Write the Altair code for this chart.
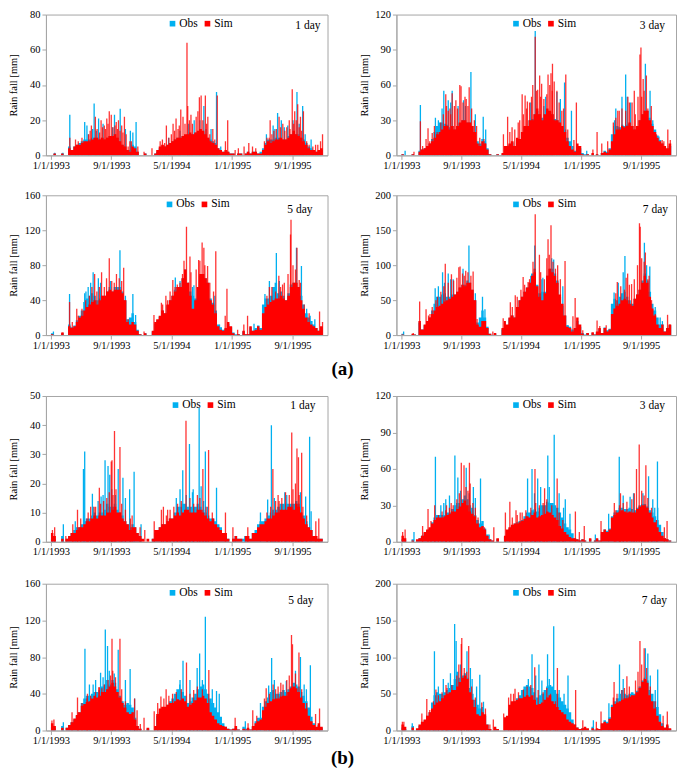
import altair as alt
import pandas as pd

SERIF = "Liberation Serif"
BLUE = "#00B0F0"
RED = "#FF0000"

# ---------------- data (10-day fill levels, 3 per month, Jan 1993 .. Dec 1995) ----------------
# ---------------- plus daily spikes given as (day offset from 1/1/1993, mm) ----------------

# (a) 1 day
a1_sim_fill = [0,1,0, 0,1,0, 0,4,3, 5,6,6, 7,8,8, 8,9,10, 10,9,10, 9,10,11, 11,12,10, 8,6,5, 3,2,5, 4,2,0,
               0,1,0, 0,0,1, 3,5,6, 5,6,7, 8,9,10, 10,11,12, 12,13,12, 13,14,15, 14,12,10, 8,7,6, 4,3,2, 3,2,1,
               1,0,1, 1,0,1, 2,1,2, 2,1,1, 3,6,8, 7,8,9, 9,10,9, 9,10,12, 14,12,11, 10,8,6, 4,3,3, 2,3,4]
a1_obs_fill = [0,1,0, 0,1,0, 0,5,3, 5,6,7, 8,9,9, 9,10,10, 10,9,10, 9,10,11, 11,12,10, 8,6,5, 3,3,6, 5,2,0,
               0,1,0, 0,0,1, 2,4,5, 5,6,7, 8,9,10, 10,11,11, 12,12,12, 13,13,14, 13,12,10, 9,8,7, 4,3,2, 2,2,1,
               1,0,1, 1,0,1, 2,1,2, 2,1,2, 4,7,9, 9,9,10, 10,10,9, 9,11,12, 13,12,12, 10,9,7, 5,4,3, 2,2,3]
a1_obs_day = [15, 48, 76, 136, 145, 168, 174, 192, 256, 279, 330, 343, 474, 577, 616, 645, 667, 684,
              868, 902, 913, 928, 954, 991, 1014, 1024, 1048]
a1_obs_val = [1.5, 1.5, 23, 19, 17, 15, 29.5, 21, 23, 26.5, 13, 19, 10, 20, 28, 15, 36, 5,
              12, 15, 24, 20, 17, 36, 28, 12, 9]
a1_obs_more = [(150,12),(183,14),(210,18),(248,16),(300,15),(320,14),(520,14),(555,18),(600,20),
               (625,15),(895,17),(940,16),(975,20),(1000,18)]
a1_sim_day = [76, 99, 163, 179, 202, 215, 225, 235, 243, 263, 272, 285, 296, 311, 324, 350, 375, 407,
              440, 449, 465, 492, 504, 523, 532, 548, 551, 564, 598, 605, 622, 632, 652, 670, 703, 712,
              742, 755, 778, 797, 812, 825, 870, 879, 883, 919, 934, 963, 972, 982, 994, 1005, 1017,
              1066, 1086, 1094]
a1_sim_val = [10, 9, 17, 22, 20, 17, 21, 25, 23, 19, 20, 17, 22, 5, 8, 5, 2, 4,
              8, 9, 17, 18, 21, 26, 22, 64, 28, 23, 33, 34, 34, 22, 15, 34, 8, 20,
              3, 4, 5, 7, 5, 4, 10, 10, 20, 22, 18, 15, 37.5, 25, 29, 22, 25,
              6, 8, 12]
a1_sim_more = [(110,8),(125,10),(152,12),(158,14),(186,15),(196,13),(208,16),(220,15),(230,18),(250,16),
               (258,17),(268,15),(278,14),(290,13),(303,12),(318,8),(458,7),(475,10),(485,12),(498,14),
               (512,15),(517,17),(540,18),(558,20),(570,18),(585,22),(592,25),(612,20),(627,18),(640,12),
               (660,9),(860,8),(890,12),(898,14),(908,15),(925,16),(942,14),(950,16),(960,20),(978,18),
               (988,20),(1000,16),(1010,14),(1030,8),(1040,6),(1055,5),(1075,6)]

# (a) 3 day
a3d_sim_fill = [1,0,0, 0,1,0, 0,3,5, 6,8,10, 12,15,18, 20,22,25, 25,22,25, 22,25,28, 30,30,28, 28,25,20, 10,8,12, 10,5,1,
                0,0,1, 0,2,8, 8,10,12, 8,15,14, 20,25,25, 30,30,35, 40,35,30, 35,40,38, 35,30,30, 28,25,20, 12,8,5, 3,10,8,
                1,0,1, 0,2,0, 1,0,2, 3,2,5, 12,18,22, 22,25,24, 25,28,25, 22,25,30, 35,38,38, 30,25,20, 15,12,10, 8,6,10]
a3d_obs_fill = [1,0,0, 0,1,0, 0,4,5, 6,8,10, 14,20,25, 28,28,27, 26,24,25, 22,25,27, 30,30,28, 28,25,20, 12,10,14, 12,6,1,
                0,0,1, 0,1,6, 7,9,11, 8,14,14, 20,24,25, 30,31,35, 38,35,32, 35,38,37, 35,31,30, 28,25,22, 15,12,8, 4,8,6,
                2,1,1, 0,1,0, 1,0,2, 4,3,6, 18,25,25, 24,26,25, 26,27,25, 22,25,30, 35,38,38, 32,27,22, 17,13,10, 7,5,8]
a3d_obs_day = [15, 77, 138, 172, 190, 206, 252, 282, 332, 342, 543, 578, 631, 662, 678, 752, 865, 910, 916,
               990, 1009, 1045]
a3d_obs_val = [4, 43, 32, 55, 47, 55, 47, 71, 33, 22, 106, 42, 54, 62, 10, 4, 30, 69, 50,
               78, 55, 16]
a3d_obs_more = [(150,30),(165,40),(200,45),(230,42),(260,42),(300,35),(525,45),(585,50),(645,48),
                (690,38),(870,40),(895,50),(930,45),(1020,30)]
a3d_sim_day = [51, 77, 86, 100, 108, 125, 134, 180, 183, 197, 206, 221, 237, 242, 263, 275, 296, 318, 342,
               414, 431, 449, 474, 490, 502, 511, 533, 543, 553, 561, 569, 595, 607, 613, 620, 631, 651, 667,
               700, 710, 777, 794, 813, 837, 878, 884, 919, 936, 949, 968, 972, 981, 994, 1014, 1058, 1081, 1091]
a3d_sim_val = [3, 29, 8, 14, 23, 19, 25, 52, 42, 40, 53, 47, 60, 59, 48, 58, 30, 15, 10,
               18, 33, 24, 28, 52, 51, 46, 60, 101, 56, 68, 61, 69, 70, 78, 63, 55, 38, 69,
               13, 45, 5, 20, 10, 12, 38, 38, 50, 45, 35, 86, 92, 65, 68, 42, 13, 22, 13]
a3d_sim_more = [(115,12),(145,20),(160,28),(170,35),(190,38),(200,35),(215,42),(228,40),(250,45),(258,50),
                (270,42),(285,40),(305,25),(335,14),(440,20),(460,22),(480,30),(495,35),(508,40),(520,45),
                (528,50),(548,55),(565,50),(578,48),(590,52),(602,60),(612,55),(640,45),(658,40),(675,22),
                (860,28),(870,32),(895,40),(910,38),(925,45),(945,55),(960,50),(975,50),(985,55),(1000,40),
                (1020,25),(1035,18),(1065,12)]

# (a) 5 day
a5_sim_fill = [1,0,0, 0,3,0, 0,10,8, 10,15,20, 22,28,32, 35,38,40, 35,40,45, 45,50,52, 50,52,52, 52,48,40, 15,12,15, 12,5,1,
               0,2,0, 0,5,15, 18,22,28, 25,35,40, 45,50,55, 55,65,75, 60,45,30, 40,55,70, 70,65,60, 40,35,25, 10,6,5, 8,15,10,
               2,0,1, 0,5,1, 1,10,5, 6,10,6, 25,32,35, 38,40,42, 42,45,42, 40,45,55, 60,60,55, 40,30,20, 15,12,10, 8,5,10]
a5_obs_fill = [2,0,0, 0,2,0, 0,12,9, 11,17,22, 28,38,42, 45,48,45, 40,42,45, 45,50,55, 50,55,55, 55,50,40, 18,20,25, 15,6,1,
               0,2,0, 0,4,13, 17,21,28, 25,34,40, 45,52,55, 55,65,75, 60,50,45, 42,55,68, 70,65,60, 42,37,28, 12,9,6, 7,13,9,
               3,1,1, 0,4,1, 1,9,5, 8,11,8, 35,42,42, 45,55,60, 48,50,45, 40,48,58, 60,60,55, 45,35,25, 20,16,12, 8,5,9]
a5_obs_day = [10, 75, 136, 141, 170, 191, 278, 330, 341, 501, 576, 679, 818, 862, 908, 989, 1009, 1044, 1063]
a5_obs_val = [4, 47, 48, 50, 72, 65, 97, 47, 23, 66, 57, 12, 13, 47, 94, 100, 79, 22, 18]
a5_obs_more = [(150,55),(160,60),(200,60),(240,62),(300,45),(520,62),(570,55),(660,45),(880,62),
               (920,62),(1030,30)]
a5_sim_day = [48, 75, 86, 104, 176, 195, 204, 224, 235, 264, 293, 311, 375, 415, 445, 463, 491, 509,
              536, 546, 560, 564, 595, 609, 616, 631, 664, 702, 709, 752, 777, 792, 880, 918, 933,
              965, 967, 991, 1000, 1082, 1094]
a5_sim_val = [3, 38, 15, 30, 70, 55, 72, 65, 88, 70, 77, 18, 4, 23, 37, 45, 63, 58,
              85, 124, 90, 72, 86, 106, 100, 79, 96, 22, 53, 6, 12, 22, 55, 68, 58,
              115, 132, 100, 63, 27, 15]
a5_sim_more = [(110,22),(125,30),(140,40),(155,45),(165,55),(185,50),(215,55),(245,62),(255,60),(275,65),
               (285,62),(300,40),(450,35),(470,40),(480,50),(500,55),(520,60),(530,70),(555,60),(585,75),
               (600,85),(620,80),(640,60),(655,50),(870,45),(890,55),(905,50),(925,55),(940,60),(955,70),
               (975,80),(985,75),(1005,60),(1020,35),(1040,25)]

# (a) 7 day
a7_sim_fill = [1,0,0, 0,2,1, 0,20,8, 15,20,25, 30,35,40, 42,45,48, 50,52,55, 58,62,68, 72,70,75, 75,65,50, 15,12,20, 20,10,2,
               0,3,0, 0,10,20, 15,25,28, 25,40,50, 55,62,68, 75,85,90, 70,55,50, 60,85,95, 90,85,75, 58,45,28, 12,10,5, 10,25,15,
               2,0,3, 0,4,1, 5,10,3, 10,5,8, 30,38,42, 45,50,52, 50,45,42, 52,58,65, 75,85,75, 55,38,28, 15,10,15, 5,10,15]
a7_obs_fill = [2,0,0, 0,1,1, 0,18,8, 14,20,25, 35,45,55, 55,58,60, 55,55,58, 58,62,68, 72,72,78, 75,65,50, 18,25,35, 25,12,2,
               0,2,0, 0,8,18, 14,24,28, 25,40,50, 55,62,68, 75,88,95, 72,60,62, 62,85,95, 95,88,78, 55,42,28, 14,12,8, 8,20,12,
               3,1,3, 0,3,1, 4,9,3, 11,7,9, 45,52,50, 55,60,62, 55,50,45, 52,58,65, 78,88,78, 62,45,35, 25,15,15, 5,10,14]
a7_obs_day = [9, 137, 167, 190, 210, 274, 329, 339, 541, 574, 618, 675, 863, 907, 986, 1008, 1050, 1059]
a7_obs_val = [5, 67, 90, 88, 80, 128, 55, 37, 128, 82, 108, 14, 61, 113, 132, 98, 25, 20]
a7_obs_more = [(150,70),(175,75),(200,80),(250,95),(300,60),(525,85),(570,80),(610,110),(655,70),
               (880,75),(900,90),(995,100),(1030,40)]
a7_sim_day = [48, 74, 100, 116, 147, 178, 203, 233, 238, 261, 291, 307, 371, 413, 442, 462, 494, 514,
              534, 543, 560, 595, 607, 634, 664, 696, 705, 736, 794, 805, 831, 876, 912, 918, 934,
              966, 969, 990, 1005, 1080, 1089]
a7_sim_val = [3, 48, 37, 30, 55, 102, 87, 97, 98, 92, 91, 23, 5, 24, 47, 57, 83, 76,
              105, 173, 115, 137, 157, 100, 106, 27, 53, 7, 21, 13, 14, 76, 82, 88, 73,
              160, 155, 118, 85, 29, 15]
a7_sim_more = [(110,28),(125,40),(140,50),(160,62),(172,70),(190,75),(212,78),(225,82),(248,88),(255,85),
               (270,90),(282,85),(300,50),(450,40),(470,55),(485,65),(500,72),(520,80),(540,95),(565,90),
               (580,80),(590,110),(600,115),(615,105),(625,95),(645,80),(870,60),(890,70),(905,65),(925,72),
               (945,80),(958,100),(975,110),(985,105),(1000,80),(1015,50),(1030,30)]

# (b) 1 day
b1_sim_fill = [3,2,0, 0,1,0, 1,2,3, 3,4,5, 5,6,7, 7,8,9, 8,9,9, 9,10,10, 11,12,10, 10,8,7, 6,4,5, 5,3,2,
               1,0,1, 0,1,4, 4,5,6, 6,7,8, 8,9,10, 9,10,11, 11,10,10, 10,11,11, 10,9,8, 7,8,6, 5,4,3, 3,1,0,
               1,2,1, 1,0,2, 2,1,3, 3,5,6, 6,7,8, 8,9,10, 10,11,11, 11,12,12, 11,13,12, 10,8,6, 5,4,2, 2,1,1]
b1_obs_fill = [1,1,0, 0,2,0, 1,2,3, 4,5,5, 6,7,8, 8,9,10, 9,10,10, 11,13,12, 12,13,11, 10,9,7, 6,5,6, 5,3,1,
               0,0,0, 0,1,3, 4,5,6, 6,7,8, 8,10,12, 12,13,13, 12,12,12, 12,13,12, 11,10,9, 8,8,7, 6,5,3, 2,1,0,
               1,2,1, 1,1,1, 2,1,3, 4,6,7, 7,8,9, 10,11,11, 12,13,13, 13,13,13, 13,14,13, 10,9,7, 5,4,2, 1,1,1]
b1_obs_day = [50, 98, 131, 136, 167, 202, 218, 230, 237, 271, 290, 317, 335, 363, 531, 558, 573, 597,
              605, 622, 667, 743, 781, 844, 873, 888, 942, 1026, 1042, 1048]
b1_obs_val = [6, 7, 25, 31, 16.5, 15.5, 28, 26, 23, 25, 22, 18, 24, 6, 24.5, 33.5, 18, 46,
              19, 31, 18.5, 2, 2, 10, 14.5, 40, 17, 15.5, 36, 10.5]
b1_obs_more = [(170,12),(190,14),(210,16),(245,18),(260,16),(300,15),(505,15),(520,18),(545,16),
               (570,17),(615,14),(630,12),(900,15),(950,16),(1005,17)]
b1_sim_day = [6, 15, 60, 88, 107, 145, 174, 195, 243, 246, 256, 278, 327, 359, 378, 416, 445, 453,
              470, 544, 612, 635, 703, 733, 793, 894, 919, 970, 991, 997, 1010, 1067, 1079]
b1_sim_val = [4, 5, 2, 6, 11, 8, 12, 18.5, 27.5, 28, 38, 32.5, 9, 5, 4, 7, 11, 12,
              11, 41.5, 25, 31.5, 10, 5, 5, 25, 14, 37.5, 32, 29, 30.5, 7, 8]
b1_sim_more = [(120,8),(150,10),(160,12),(180,12),(200,13),(212,14),(225,15),(235,17),(250,16),(262,18),
               (285,13),(300,11),(320,8),(465,9),(480,11),(495,12),(510,13),(525,14),(560,15),(575,13),
               (590,16),(600,15),(625,12),(650,10),(870,10),(885,12),(905,14),(915,16),(930,15),(945,17),
               (960,16),(975,18),(985,20),(1000,16),(1015,12),(1030,9)]

# (b) 3 day
b3d_sim_fill = [5,3,0, 0,1,0, 2,3,5, 8,10,12, 15,18,20, 20,20,21, 22,23,25, 25,27,29, 32,34,30, 25,23,21, 15,12,13, 10,5,2,
                1,0,3, 0,0,5, 10,12,14, 15,15,16, 17,19,21, 20,22,24, 20,21,22, 23,25,24, 22,20,18, 13,11,8, 6,4,3, 3,2,1,
                2,1,0, 3,0,1, 3,1,8, 10,8,10, 20,22,24, 25,26,25, 24,25,24, 24,27,29, 30,30,28, 24,20,16, 12,8,5, 3,2,1]
b3d_obs_fill = [2,1,0, 0,2,0, 1,3,5, 7,9,11, 16,20,22, 22,22,22, 24,24,27, 30,32,32, 35,38,35, 30,28,22, 18,15,17, 11,6,2,
                1,0,2, 0,0,4, 9,11,13, 15,16,17, 18,21,24, 24,26,27, 25,28,30, 30,33,32, 32,30,28, 24,20,15, 12,10,7, 3,2,1,
                2,1,0, 2,0,1, 2,1,6, 10,9,11, 21,24,26, 28,28,27, 27,28,27, 26,28,30, 31,31,29, 26,24,21, 18,14,8, 3,2,1]
b3d_obs_day = [51, 138, 172, 195, 217, 229, 263, 292, 321, 356, 512, 530, 553, 594, 620, 658, 684, 787,
               841, 884, 928, 942, 1003, 1028, 1039]
b3d_obs_val = [8, 70, 32, 38, 71, 53, 61, 45, 52, 6, 52, 60, 52, 71, 88, 28, 23, 6,
               23, 70, 37, 40, 54, 28, 66]
b3d_obs_more = [(160,30),(180,35),(240,42),(275,40),(300,36),(540,40),(565,45),(600,45),(640,40),
                (665,35),(900,38),(980,40),(1020,35),(1040,28)]
b3d_sim_day = [5, 15, 86, 108, 135, 183, 202, 243, 254, 276, 279, 311, 337, 375, 422, 440, 465, 482,
               542, 581, 632, 706, 722, 742, 810, 864, 889, 954, 965, 992, 1067, 1078]
b3d_sim_val = [8, 10, 13, 27, 30, 30, 32, 65, 63, 65, 48, 20, 12, 12, 24, 33, 26, 24,
               60, 44, 52, 25, 8, 13, 17, 32, 40, 60, 80, 63, 12, 17]
b3d_sim_more = [(120,17),(150,22),(165,25),(180,26),(195,28),(210,30),(225,35),(235,40),(262,45),(270,42),
                (290,32),(300,28),(450,20),(470,22),(490,24),(505,26),(525,28),(545,32),(560,30),(575,32),
                (590,35),(610,30),(640,24),(655,18),(870,26),(885,30),(900,32),(915,33),(935,35),(945,40),
                (975,42),(985,38),(1000,36),(1015,28),(1035,18)]

# (b) 5 day
b5_sim_fill = [8,5,0, 0,3,0, 3,6,9, 13,17,20, 27,29,31, 32,35,38, 36,38,42, 42,45,48, 52,48,42, 36,30,25, 20,18,20, 12,5,2,
               0,0,3, 0,0,5, 18,24,26, 26,28,30, 30,32,34, 33,35,32, 26,28,30, 33,36,36, 38,35,30, 20,16,12, 8,6,5, 4,2,1,
               2,5,1, 0,2,1, 3,1,5, 8,10,12, 22,26,30, 32,34,35, 35,37,38, 38,42,46, 48,46,42, 36,30,24, 16,10,6, 4,8,4]
b5_obs_fill = [4,3,0, 0,5,0, 3,6,9, 12,16,20, 30,35,38, 38,40,42, 42,44,48, 50,55,50, 55,52,45, 38,32,28, 30,28,25, 14,5,2,
               0,0,2, 0,0,4, 16,20,22, 24,28,32, 35,40,45, 45,42,38, 30,32,36, 40,45,48, 50,45,40, 35,30,25, 20,15,8, 4,2,1,
               2,3,1, 0,4,2, 2,1,4, 10,14,14, 26,32,36, 42,44,40, 40,42,44, 42,45,48, 52,50,48, 42,38,32, 25,15,8, 3,6,3]
b5_obs_day = [50, 137, 170, 200, 219, 228, 271, 319, 337, 519, 532, 589, 599, 622, 667, 678, 783, 844,
              877, 889, 948, 1005, 1029, 1045]
b5_obs_val = [9, 89, 50, 63, 110, 92, 88, 67, 35, 50, 76, 68, 84, 124, 43, 40, 10, 30,
              49, 79, 54, 80, 45, 71]
b5_obs_more = [(155,50),(180,55),(210,58),(235,65),(255,62),(300,55),(520,55),(560,55),(610,55),
               (650,45),(900,55),(985,65),(1020,50)]
b5_sim_day = [4, 12, 85, 107, 147, 193, 195, 246, 249, 278, 337, 347, 360, 375, 416, 443, 464, 546,
              636, 742, 794, 813, 829, 867, 895, 926, 969, 973, 999, 1066, 1082]
b5_sim_val = [11, 12, 20, 36, 40, 47, 47, 100, 65, 100, 35, 22, 7, 14, 21, 37, 45, 74,
              66, 14, 8, 22, 16, 46, 50, 52, 104, 94, 85, 18, 24]
b5_sim_more = [(110,20),(125,30),(145,35),(160,38),(180,42),(205,46),(215,50),(230,55),(240,60),(260,58),
               (285,45),(300,32),(430,30),(455,35),(475,38),(490,40),(505,42),(525,45),(560,40),(575,44),
               (590,48),(610,45),(630,30),(860,35),(880,40),(905,45),(915,48),(935,50),(950,55),(960,60),
               (985,62),(1010,45),(1030,30)]

# (b) 7 day
b7_sim_fill = [8,5,0, 0,4,0, 3,8,12, 15,20,25, 30,35,38, 40,44,48, 50,52,55, 55,60,66, 72,75,70, 52,42,32, 22,20,25, 22,8,2,
               0,5,2, 0,0,18, 20,35,40, 40,42,44, 44,46,48, 46,48,42, 35,36,38, 42,45,48, 40,36,32, 28,25,22, 15,12,10, 8,4,2,
               3,5,3, 0,3,1, 3,2,10, 12,10,16, 32,36,38, 40,42,44, 44,46,48, 48,52,58, 66,70,65, 48,40,30, 20,12,6, 4,8,3]
b7_obs_fill = [4,2,0, 0,6,0, 2,6,10, 14,20,25, 38,48,52, 50,50,52, 55,58,62, 70,80,72, 75,78,72, 58,50,42, 35,30,32, 20,8,2,
               0,3,1, 0,0,14, 18,30,38, 40,44,48, 55,60,62, 60,58,52, 45,48,50, 55,60,62, 60,55,50, 45,40,35, 30,25,15, 8,4,2,
               3,4,2, 0,5,1, 2,2,8, 14,12,18, 35,40,44, 50,55,50, 48,50,52, 50,54,60, 68,72,68, 55,50,40, 32,22,10, 3,6,2]
b7_obs_day = [44, 134, 199, 216, 222, 266, 287, 318, 333, 530, 558, 593, 618, 676, 779, 842, 885, 990, 1000, 1040]
b7_obs_val = [10, 108, 78, 145, 122, 108, 70, 76, 39, 104, 90, 104, 142, 75, 14, 37, 90, 112, 105, 83]
b7_obs_more = [(150,60),(170,70),(190,65),(240,90),(280,85),(305,60),(515,70),(545,75),(570,68),
               (600,70),(640,55),(660,50),(900,70),(1010,75),(1030,55)]
b7_sim_day = [4, 10, 83, 103, 140, 181, 233, 243, 245, 273, 326, 341, 359, 373, 415, 444, 461, 541,
              633, 707, 736, 791, 810, 863, 915, 968, 985, 1062, 1079]
b7_sim_val = [12, 12, 23, 43, 56, 62, 90, 118, 126, 115, 38, 30, 8, 15, 23, 50, 57, 86,
              85, 55, 14, 12, 26, 66, 74, 122, 112, 20, 26]
b7_sim_more = [(115,28),(130,40),(150,48),(165,52),(185,58),(205,62),(225,75),(255,85),(265,80),(285,60),
               (300,45),(435,45),(455,50),(475,52),(495,56),(510,60),(525,62),(555,55),(575,52),(590,58),
               (605,50),(625,40),(860,45),(875,50),(895,55),(905,58),(925,60),(950,68),(960,80),(975,90),
               (995,85),(1010,60),(1030,40)]

# tick labels
x_tick_labels = ["1/1/1993", "9/1/1993", "5/1/1994", "1/1/1995", "9/1/1995"]

# ---------------- helpers ----------------
START = pd.Timestamp("1993-01-01")
DEKADS = [pd.Timestamp(y, m, d) for y in (1993, 1994, 1995) for m in range(1, 13) for d in (1, 11, 21)]


def fill_df(vals, series):
    assert len(vals) == 108, (series, len(vals))
    return pd.DataFrame({"date": DEKADS + [pd.Timestamp("1996-01-01")],
                         "v": list(vals) + [vals[-1]], "series": series})


def spike_df(days, vals, more, series):
    assert len(days) == len(vals), (series, len(days), len(vals))
    d = list(days) + [p[0] for p in more]
    v = list(vals) + [p[1] for p in more]
    return pd.DataFrame({"date": START + pd.to_timedelta(d, unit="D"),
                         "v": v, "series": series})


def dt(s):
    m, d, y = (int(t) for t in s.split("/"))
    return alt.DateTime(year=y, month=m, date=d)


def panel(obs_fill, sim_fill, obs_day, obs_val, obs_more, sim_day, sim_val, sim_more,
          ymax, ystep, label, w, h, lab_dx, lab_y, leg_x):
    x = alt.X("date:T",
              scale=alt.Scale(domain=[dt("1/1/1993"), dt("12/31/1995")], nice=False),
              axis=alt.Axis(values=[dt(s) for s in x_tick_labels], format="%-m/%-d/%Y",
                            title=None, labelFontSize=10.5, labelAngle=0, labelOverlap=False,
                            labelPadding=1, tickSize=4, grid=False))
    y = alt.Y("v:Q",
              scale=alt.Scale(domain=[0, ymax], nice=False, zero=True),
              axis=alt.Axis(values=list(range(0, ymax + 1, ystep)), title="Rain fall [mm]",
                            labelFontSize=10.5, titleFontSize=10.5, titlePadding=3,
                            labelPadding=2, tickSize=4, grid=False,
                            minExtent=24, maxExtent=24))
    color = alt.Color("series:N",
                      scale=alt.Scale(domain=["Obs", "Sim"], range=[BLUE, RED]),
                      legend=alt.Legend(orient="none", legendX=leg_x, legendY=3,
                                        direction="horizontal", title=None,
                                        symbolType="square", symbolSize=32,
                                        symbolStrokeWidth=0, symbolOpacity=1,
                                        labelFont=SERIF, labelFontSize=11.5,
                                        labelColor="black", labelOffset=1,
                                        columnPadding=3, padding=0))
    obs_a = alt.Chart(fill_df(obs_fill, "Obs")).mark_area(
        interpolate="step-after", clip=True).encode(x=x, y=y, color=color)
    obs_s = alt.Chart(spike_df(obs_day, obs_val, obs_more, "Obs")).mark_bar(
        size=1.3, clip=True).encode(x=x, y=y, color=color)
    sim_a = alt.Chart(fill_df(sim_fill, "Sim")).mark_area(
        interpolate="step-after", clip=True).encode(x=x, y=y, color=color)
    sim_s = alt.Chart(spike_df(sim_day, sim_val, sim_more, "Sim")).mark_bar(
        size=1.3, clip=True, opacity=0.8).encode(x=x, y=y, color=color)
    lab = alt.Chart(pd.DataFrame({"t": [label]})).mark_text(
        align="right", baseline="middle", font=SERIF, fontSize=11.5, color="black"
    ).encode(text="t:N", x=alt.value(w - lab_dx), y=alt.value(lab_y))
    return alt.layer(obs_a, obs_s, sim_a, sim_s, lab).properties(width=w, height=h)


WL, WR = 282, 280
H1, H2, H3, H4 = 141, 140, 146, 147

p1 = panel(a1_obs_fill, a1_sim_fill, a1_obs_day, a1_obs_val, a1_obs_more,
           a1_sim_day, a1_sim_val, a1_sim_more, 80, 20, "1 day", WL, H1, 7, 11, int(WL * 0.43))
p2 = panel(a3d_obs_fill, a3d_sim_fill, a3d_obs_day, a3d_obs_val, a3d_obs_more,
           a3d_sim_day, a3d_sim_val, a3d_sim_more, 120, 30, "3 day", WR, H1, 11, 11, int(WR * 0.41))
p3 = panel(a5_obs_fill, a5_sim_fill, a5_obs_day, a5_obs_val, a5_obs_more,
           a5_sim_day, a5_sim_val, a5_sim_more, 160, 40, "5 day", WL, H2, 15, 15, int(WL * 0.42))
p4 = panel(a7_obs_fill, a7_sim_fill, a7_obs_day, a7_obs_val, a7_obs_more,
           a7_sim_day, a7_sim_val, a7_sim_more, 200, 50, "7 day", WR, H2, 8, 15, int(WR * 0.41))
p5 = panel(b1_obs_fill, b1_sim_fill, b1_obs_day, b1_obs_val, b1_obs_more,
           b1_sim_day, b1_sim_val, b1_sim_more, 50, 10, "1 day", WL, H3, 12, 10, int(WL * 0.44))
p6 = panel(b3d_obs_fill, b3d_sim_fill, b3d_obs_day, b3d_obs_val, b3d_obs_more,
           b3d_sim_day, b3d_sim_val, b3d_sim_more, 120, 30, "3 day", WR, H3, 11, 10, int(WR * 0.41))
p7 = panel(b5_obs_fill, b5_sim_fill, b5_obs_day, b5_obs_val, b5_obs_more,
           b5_sim_day, b5_sim_val, b5_sim_more, 160, 40, "5 day", WL, H4, 14, 17, int(WL * 0.43))
p8 = panel(b7_obs_fill, b7_sim_fill, b7_obs_day, b7_obs_val, b7_obs_more,
           b7_sim_day, b7_sim_val, b7_sim_more, 200, 50, "7 day", WR, H4, 9, 17, int(WR * 0.41))


def ind(c):
    return c.resolve_scale(color="independent").resolve_legend(color="independent")


HS = 30
row1 = ind(alt.hconcat(p1, p2, spacing=HS))
row2 = ind(alt.hconcat(p3, p4, spacing=HS))
row3 = ind(alt.hconcat(p5, p6, spacing=HS))
row4 = ind(alt.hconcat(p7, p8, spacing=HS))

block_a = ind(alt.vconcat(row1, row2, spacing=18)).properties(
    title=alt.TitleParams("(a)", orient="bottom", anchor="middle", font=SERIF,
                          fontSize=19, fontWeight="bold", color="black", offset=9))
block_b = ind(alt.vconcat(row3, row4, spacing=20)).properties(
    title=alt.TitleParams("(b)", orient="bottom", anchor="middle", font=SERIF,
                          fontSize=19, fontWeight="bold", color="black", offset=3))

chart = ind(alt.vconcat(block_a, block_b, spacing=11)).properties(
    padding={"left": 0, "top": 0, "right": 0, "bottom": 0}
).configure(font=SERIF).configure_view(
    stroke="#a6a6a6", strokeWidth=1
).configure_axis(
    domainColor="#a6a6a6", tickColor="#a6a6a6", labelColor="black", titleColor="black",
    labelFont=SERIF, titleFont=SERIF, titleFontWeight="normal"
)

chart.save("out.html", embed_options={"renderer": "svg", "actions": False})
